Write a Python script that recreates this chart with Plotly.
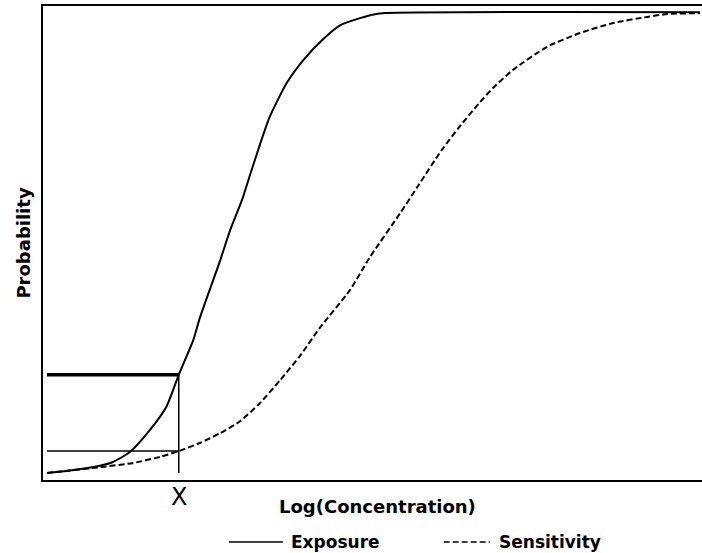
import plotly.graph_objects as go

# Log(Concentration) axis runs 0..10, probability 0..1
exposure_x = [0.06, 0.36, 0.86, 1.06, 1.32, 1.62, 1.87, 2.06, 2.28, 2.38, 2.69, 2.84,
              3.02, 3.14, 3.29, 3.44, 3.70, 3.95, 4.25, 4.52, 4.98, 5.19, 9.97]
exposure_y = [0.015, 0.019, 0.030, 0.038, 0.059, 0.105, 0.154, 0.222, 0.295, 0.342, 0.464, 0.527,
              0.591, 0.643, 0.707, 0.766, 0.838, 0.886, 0.930, 0.960, 0.981, 0.985, 0.987]

sensitivity_x = [0.06, 0.86, 1.37, 1.78, 2.06, 2.38, 2.69, 2.99, 3.29, 3.60, 3.90, 4.20,
                 4.66, 4.96, 5.42, 5.68, 6.05, 6.33, 6.63, 6.83, 7.13, 7.65, 8.15, 8.65,
                 9.17, 9.47, 9.97]
sensitivity_y = [0.015, 0.027, 0.036, 0.049, 0.061, 0.078, 0.099, 0.124, 0.162, 0.211, 0.262, 0.321,
                 0.401, 0.470, 0.563, 0.618, 0.696, 0.747, 0.797, 0.827, 0.865, 0.914, 0.943, 0.964,
                 0.977, 0.983, 0.985]

x_mark = 2.06          # the "X" concentration
x_start = 0.06
p_exposure_at_x = 0.222
p_sensitivity_at_x = 0.061
p_floor = 0.015

FONT = "DejaVu Sans"

fig = go.Figure()
fig.add_trace(go.Scatter(x=exposure_x, y=exposure_y, mode="lines", name="Exposure",
                         line=dict(color="black", width=2, shape="spline", smoothing=0.6),
                         showlegend=False))
fig.add_trace(go.Scatter(x=sensitivity_x, y=sensitivity_y, mode="lines", name="Sensitivity",
                         line=dict(color="black", width=2, dash="6px,3px", shape="spline", smoothing=0.6),
                         showlegend=False))
# reference lines
fig.add_trace(go.Scatter(x=[x_start, x_mark], y=[p_exposure_at_x, p_exposure_at_x], mode="lines",
                         line=dict(color="black", width=3.5), showlegend=False, hoverinfo="skip"))
fig.add_trace(go.Scatter(x=[x_start, x_mark], y=[p_sensitivity_at_x, p_sensitivity_at_x], mode="lines",
                         line=dict(color="black", width=1.5), showlegend=False, hoverinfo="skip"))
fig.add_trace(go.Scatter(x=[x_mark, x_mark], y=[p_floor, p_exposure_at_x], mode="lines",
                         line=dict(color="black", width=1.5), showlegend=False, hoverinfo="skip"))

# manual legend (paper coordinates)
fig.add_shape(type="line", xref="paper", yref="paper", x0=0.282, x1=0.364, y0=-0.131, y1=-0.131,
              line=dict(color="black", width=1.5))
fig.add_shape(type="line", xref="paper", yref="paper", x0=0.608, x1=0.678, y0=-0.131, y1=-0.131,
              line=dict(color="black", width=1.5, dash="6px,3px"))
fig.add_annotation(text="<b>Exposure</b>", xref="paper", yref="paper", x=0.373, y=-0.131,
                   xanchor="left", yanchor="middle", showarrow=False,
                   font=dict(family=FONT, size=17, color="black"))
fig.add_annotation(text="<b>Sensitivity</b>", xref="paper", yref="paper", x=0.689, y=-0.131,
                   xanchor="left", yanchor="middle", showarrow=False,
                   font=dict(family=FONT, size=17, color="black"))
fig.add_annotation(text="X", xref="x", yref="paper", x=x_mark, y=-0.036,
                   xanchor="center", yanchor="middle", showarrow=False,
                   font=dict(family=FONT, size=24, color="black"))
fig.add_annotation(text="<b>Log(Concentration)</b>", xref="paper", yref="paper", x=0.508, y=-0.055,
                   xanchor="center", yanchor="middle", showarrow=False,
                   font=dict(family=FONT, size=18, color="black"))

fig.update_layout(
    width=702, height=553,
    margin=dict(l=43, r=0, t=6, b=73),
    paper_bgcolor="white", plot_bgcolor="white",
    xaxis=dict(range=[0, 10], showgrid=False, zeroline=False, showticklabels=False, ticks="",
               showline=True, linecolor="black", linewidth=2, mirror=True),
    yaxis=dict(range=[0, 1], showgrid=False, zeroline=False, showticklabels=False, ticks="",
               showline=True, linecolor="black", linewidth=2,
               title=dict(text="<b>Probability</b>", standoff=6,
                          font=dict(family=FONT, size=18, color="black"))),
    showlegend=False,
)

fig.write_html("out.html")
